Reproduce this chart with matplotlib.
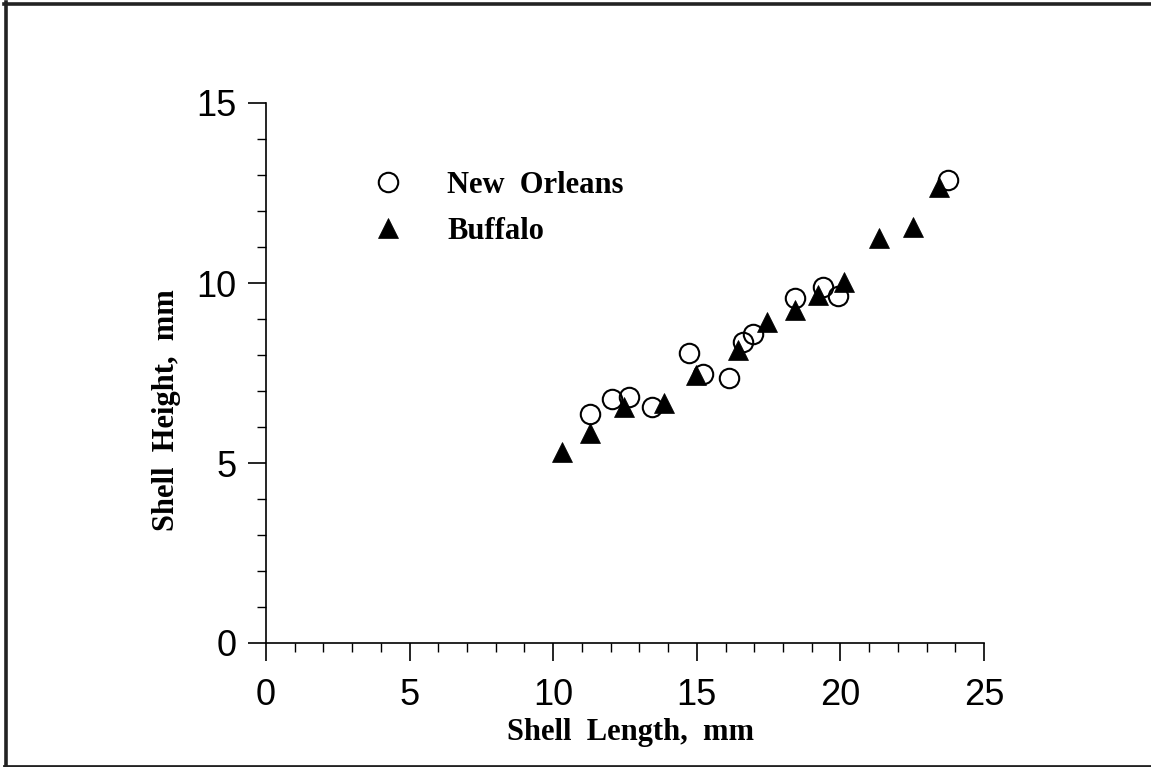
import matplotlib
matplotlib.use("Agg")
import matplotlib.pyplot as plt
from matplotlib.lines import Line2D
from matplotlib.ticker import MultipleLocator

# Data
new_orleans_x = [11.28, 12.04, 12.65, 13.43, 14.73, 15.23, 16.13, 16.62, 16.94, 18.42, 19.41, 19.93, 23.76]
new_orleans_y = [6.35, 6.77, 6.84, 6.55, 8.06, 7.46, 7.35, 8.37, 8.57, 9.57, 9.88, 9.64, 12.86]
buffalo_x = [10.29, 11.28, 12.48, 13.87, 14.96, 16.45, 17.43, 18.42, 19.23, 20.13, 21.34, 22.54, 23.44]
buffalo_y = [5.31, 5.82, 6.55, 6.66, 7.44, 8.14, 8.91, 9.25, 9.67, 10.04, 11.26, 11.56, 12.68]
x_ticks = [0, 5, 10, 15, 20, 25]
y_ticks = [0, 5, 10, 15]
series_labels = ["New  Orleans", "Buffalo"]
x_label = "Shell  Length,  mm"
y_label = "Shell  Height,  mm"

W, H = 1151, 767
fig = plt.figure(figsize=(W / 100, H / 100), dpi=100)
ax = fig.add_axes([266 / W, 1 - 643 / H, (984 - 266) / W, (643 - 103) / H])

serif = ["Liberation Serif", "DejaVu Serif"]
sans = ["Liberation Sans", "DejaVu Sans"]

ax.plot(new_orleans_x, new_orleans_y, linestyle="none", marker="o", ms=14,
        mfc="none", mec="black", mew=1.5, label=series_labels[0], clip_on=False)
ax.plot(buffalo_x, buffalo_y, linestyle="none", marker="^", ms=14,
        mfc="black", mec="black", mew=0.5, label=series_labels[1], clip_on=False)

ax.set_xlim(0, 25)
ax.set_ylim(0, 15)
ax.set_xticks(x_ticks)
ax.set_yticks(y_ticks)
ax.xaxis.set_minor_locator(MultipleLocator(1))
ax.yaxis.set_minor_locator(MultipleLocator(1))

for s in ["top", "right"]:
    ax.spines[s].set_visible(False)
for s in ["left", "bottom"]:
    ax.spines[s].set_linewidth(1.2)

ax.tick_params(which="major", direction="out", length=13, width=1.2, color="black")
ax.tick_params(which="minor", direction="out", length=6.5, width=1.0, color="black")
ax.tick_params(axis="x", which="major", pad=12)
ax.tick_params(axis="y", which="major", pad=8)
for lab in ax.get_xticklabels() + ax.get_yticklabels():
    lab.set_fontfamily(sans)
    lab.set_fontsize(26)

ax.set_xlabel(x_label, fontfamily=serif, fontsize=22, fontweight="bold")
ax.set_ylabel(y_label, fontfamily=serif, fontsize=22, fontweight="bold")
ax.xaxis.set_label_coords(0.507, -0.139)
ax.yaxis.set_label_coords(-0.118, 0.431)

leg = ax.legend(loc="upper left", bbox_to_anchor=(373 / W, 1 - 171 / H),
                bbox_transform=fig.transFigure, frameon=False, borderpad=0,
                borderaxespad=0, handlelength=1.0, handletextpad=1.42,
                labelspacing=0.56,
                prop={"family": serif, "size": 22, "weight": "bold"})

# Page frame lines
fc = "#222222"
fig.add_artist(Line2D([4 / W, 1], [1 - 3.8 / H, 1 - 3.8 / H], color=fc, lw=2.6,
                      transform=fig.transFigure))
fig.add_artist(Line2D([5.8 / W, 5.8 / W], [0, 1 - 2 / H], color=fc, lw=2.6,
                      transform=fig.transFigure))
fig.add_artist(Line2D([4 / W, 1], [0.8 / H, 0.8 / H], color=fc, lw=2.0,
                      transform=fig.transFigure))

fig.savefig("out.png", dpi=100, facecolor="white")
